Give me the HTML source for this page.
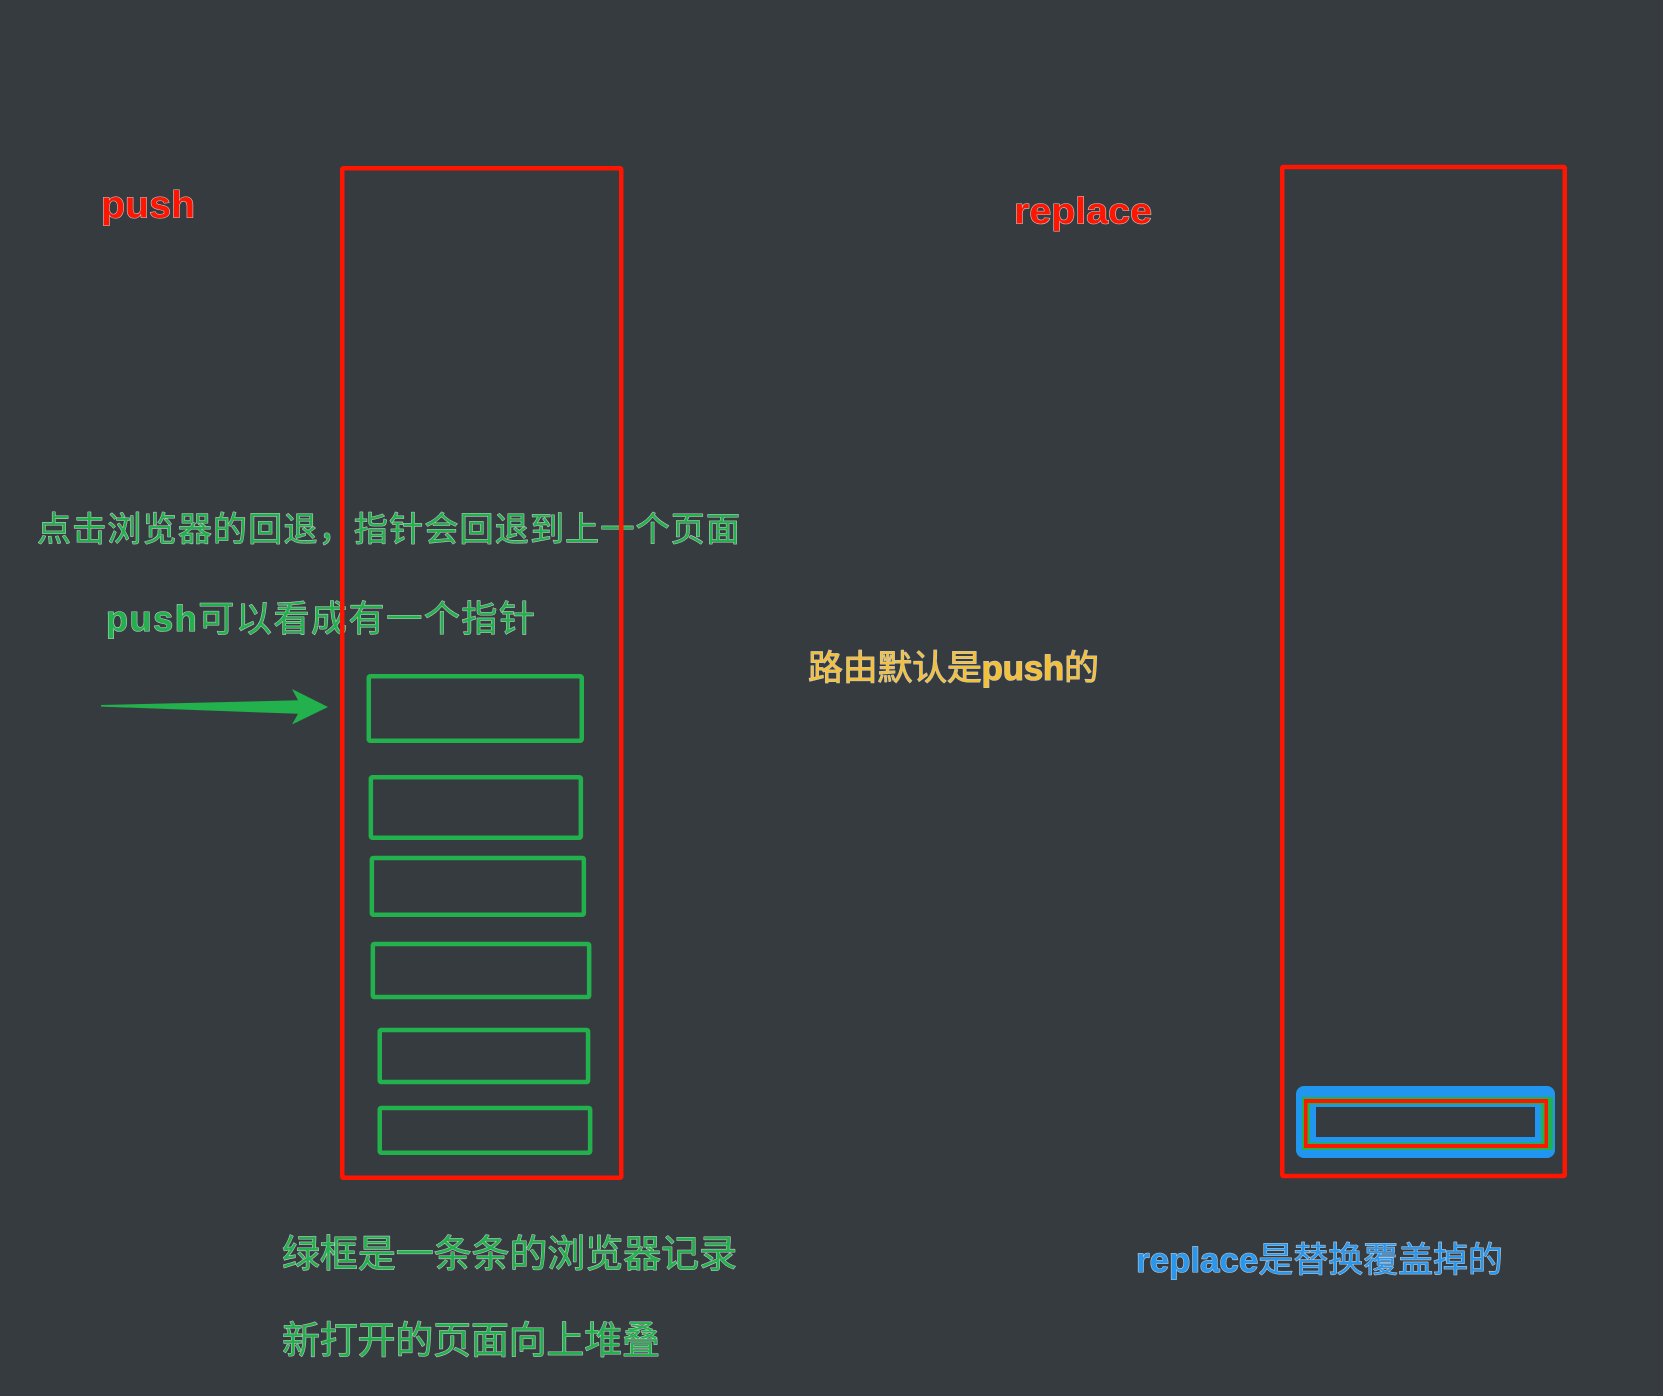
<!DOCTYPE html>
<html>
<head>
<meta charset="utf-8">
<style>
  html,body{margin:0;padding:0;background:#363b40;}
  svg{display:block;}
  .t{font-family:"Liberation Sans","Noto Sans CJK SC",sans-serif;paint-order:stroke fill;stroke:#c9cccf;stroke-width:1.1px;stroke-linejoin:round;}
  .b{font-weight:bold;}
</style>
</head>
<body>
<svg width="1663" height="1396" viewBox="0 0 1663 1396" xmlns="http://www.w3.org/2000/svg">
  <rect x="0" y="0" width="1663" height="1396" fill="#363b40"/>

  <!-- titles -->
  <text class="t b" x="101" y="217.5" font-size="38" fill="#ff1500" textLength="94" lengthAdjust="spacingAndGlyphs">push</text>
  <text class="t b" x="1014" y="223.5" font-size="37" fill="#ff1500" textLength="138" lengthAdjust="spacingAndGlyphs">replace</text>

  <!-- green texts -->
  <text class="t" x="37" y="541" font-size="34" fill="#22b14c" textLength="703" lengthAdjust="spacing">点击浏览器的回退，指针会回退到上一个页面</text>
  <text class="t" x="106" y="631" font-size="36" fill="#22b14c" textLength="429" lengthAdjust="spacing"><tspan font-weight="bold">push</tspan>可以看成有一个指针</text>

  <!-- yellow text -->
  <text class="t" x="808" y="680" font-size="35" fill="#f4c03a" textLength="291" lengthAdjust="spacing">路由默认是<tspan font-weight="bold">push</tspan>的</text>

  <!-- bottom texts -->
  <text class="t" x="282" y="1267" font-size="38" fill="#22b14c" textLength="455" lengthAdjust="spacing">绿框是一条条的浏览器记录</text>
  <text class="t" x="282" y="1353.5" font-size="38" fill="#22b14c" textLength="378" lengthAdjust="spacing">新打开的页面向上堆叠</text>
  <text class="t" x="1136" y="1272" font-size="35" fill="#2a97ef" textLength="367" lengthAdjust="spacing"><tspan font-weight="bold">replace</tspan>是替换覆盖掉的</text>

  <!-- arrow -->
  <polygon points="101,705 298,700.3 292,689 328,707 292,724.5 298,713.8 101,706.6" fill="#22b14c"/>

  <!-- green history boxes -->
  <g fill="none" stroke="#22b14c" stroke-width="4.5">
    <rect x="368.75" y="676.25" width="213" height="64.5" rx="1.5"/>
    <rect x="370.85" y="777.25" width="210" height="60.5" rx="1.5"/>
    <rect x="371.85" y="857.95" width="212" height="56.8" rx="1.5"/>
    <rect x="372.85" y="943.95" width="216.3" height="53.1" rx="1.5"/>
    <rect x="379.75" y="1029.95" width="208.3" height="52.1" rx="1.5"/>
    <rect x="379.75" y="1107.95" width="210.4" height="44.8" rx="1.5"/>
  </g>

  <!-- replace stacked box -->
  <rect x="1296" y="1086" width="259" height="72" rx="8" fill="#2196f0"/>
  <rect x="1302" y="1097" width="251" height="53" fill="#22b14c"/>
  <rect x="1304" y="1099" width="244" height="49" fill="#ff1500"/>
  <rect x="1307.5" y="1103" width="237" height="41" fill="#22b14c"/>
  <rect x="1310" y="1104.5" width="231" height="38" fill="#2196f0"/>
  <rect x="1316" y="1107" width="219" height="30" fill="#363b40"/>

  <!-- red containers (drawn over text) -->
  <g fill="none" stroke="#ff1500" stroke-width="4.5">
    <rect x="342.25" y="168.25" width="279" height="1009.5" rx="1"/>
    <rect x="1282.25" y="167" width="282.5" height="1009" rx="1"/>
  </g>
</svg>
</body>
</html>
